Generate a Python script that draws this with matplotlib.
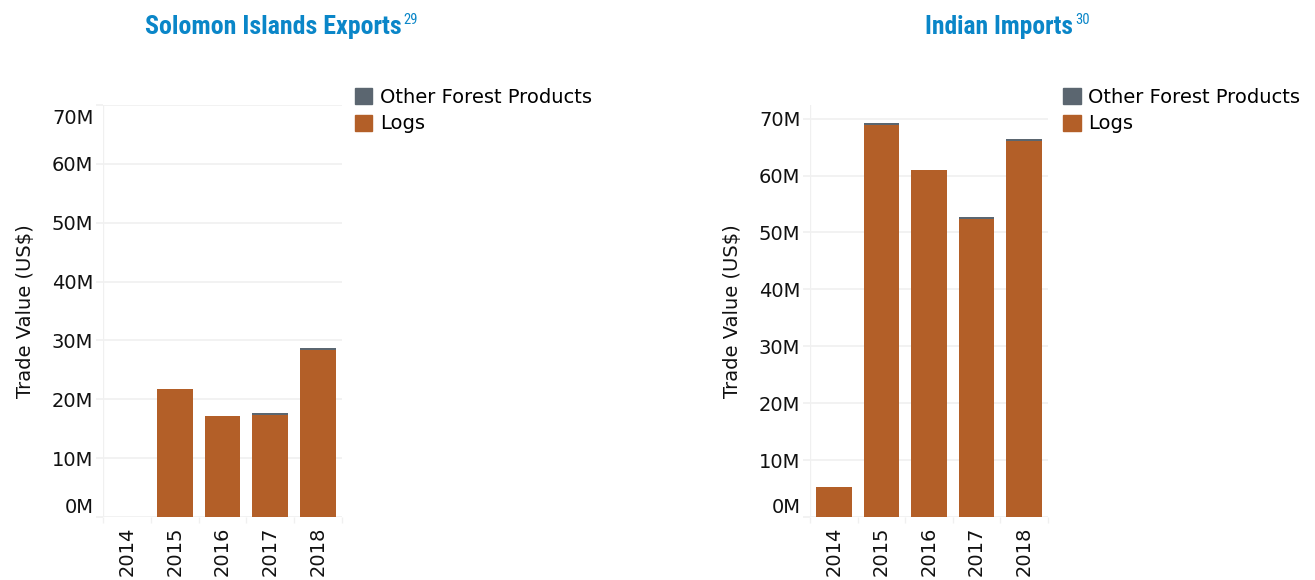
import matplotlib.pyplot as plt
from matplotlib.patches import Patch
from matplotlib import font_manager
from matplotlib.transforms import ScaledTranslation

years = ["2014", "2015", "2016", "2017", "2018"]

# Solomon Islands exports (US$ millions)
solomon_logs = [0.0, 21.8, 17.2, 17.3, 28.4]
solomon_other = [0.0, 0.0, 0.0, 0.35, 0.35]

# Indian imports (US$ millions)
india_logs = [5.3, 68.9, 60.9, 52.4, 66.0]
india_other = [0.0, 0.4, 0.0, 0.4, 0.35]

yticks = [0, 10, 20, 30, 40, 50, 60, 70]
ytick_labels = ["0M", "10M", "20M", "30M", "40M", "50M", "60M", "70M"]

LOGS_COLOR = "#b35f28"
OTHER_COLOR = "#5b6670"
GRID = "#f0f0f0"
TITLE_BLUE = "#0a86c8"
W, H = 1315, 580

plt.rcParams['font.family'] = ['DejaVu Sans']

# pick a narrow face for the titles if one is installed
names = {f.name for f in font_manager.fontManager.ttflist}
title_family = "DejaVu Sans"
for cand in ["Liberation Sans Narrow", "DejaVu Sans Condensed", "Roboto Condensed", "Roboto"]:
    if cand in names:
        title_family = cand
        break

fig = plt.figure(figsize=(W / 100, H / 100), dpi=100)
fig.set_facecolor("white")


def px_axes(x0, x1, y0, y1):
    # pixel box (top-left origin) -> figure fraction
    return fig.add_axes([x0 / W, 1 - y1 / H, (x1 - x0) / W, (y1 - y0) / H])


def draw_panel(ax, logs, other, ymax, title, sup, title_x, title_w, legend_x):
    x = list(range(len(years)))
    ax.bar(x, logs, width=0.75, color=LOGS_COLOR, zorder=3)
    ax.bar(x, other, width=0.75, bottom=logs, color=OTHER_COLOR, zorder=3)

    ax.set_xlim(-0.5, len(years) - 0.5)
    ax.set_ylim(0, ymax)
    for s in ax.spines.values():
        s.set_visible(False)
    ax.axvline(-0.5, color=GRID, lw=1, zorder=1)

    ax.set_yticks(yticks)
    ax.set_yticklabels(ytick_labels)
    ax.yaxis.grid(True, color=GRID, lw=1.2, zorder=0)
    ax.tick_params(axis="y", length=5, width=1.2, color=GRID, pad=2,
                   labelsize=14, labelcolor="#111111")
    labels = ax.get_yticklabels()
    labels[0].set_va("bottom")
    if ymax <= 70.5:
        # flush the top label inside the axis like the original
        labels[-1].set_va("top")
        labels[-1].set_transform(labels[-1].get_transform() +
                                 ScaledTranslation(0, -3 / 72, fig.dpi_scale_trans))

    ax.set_xticks(x)
    ax.set_xticklabels(years, rotation=90, va="top", ha="center")
    ax.set_xticks([i - 0.5 for i in range(len(years) + 1)], minor=True)
    ax.tick_params(axis="x", which="major", length=0, pad=7,
                   labelsize=14, labelcolor="#111111")
    ax.tick_params(axis="x", which="minor", length=4, width=1, color=GRID)

    ax.set_ylabel("Trade Value (US$)", fontsize=14, color="#111111", labelpad=12)

    handles = [Patch(color=OTHER_COLOR, label="Other Forest Products"),
               Patch(color=LOGS_COLOR, label="Logs")]
    fig.legend(handles=handles, loc="upper left",
               bbox_to_anchor=(legend_x / W, 1 - 88 / H), frameon=False,
               fontsize=14, handlelength=0.9, handleheight=0.9,
               handletextpad=0.4, labelspacing=0.38, borderpad=0,
               borderaxespad=0)

    # title: scale the font so its width matches the reference
    r = fig.canvas.get_renderer()
    t = fig.text(title_x / W, 1 - 27 / H, title, ha="center", va="center",
                 fontsize=16, fontweight="bold", color=TITLE_BLUE,
                 family=title_family)
    w = t.get_window_extent(r).width
    t.set_fontsize(16 * title_w / w)
    bb = t.get_window_extent(r)
    fig.text((bb.x1 + 2) / W, 1 - 13 / H, sup, ha="left", va="top",
             fontsize=10.5, color=TITLE_BLUE, family=title_family)


ax1 = px_axes(103, 342, 105, 517)
draw_panel(ax1, solomon_logs, solomon_other, 70.0,
           "Solomon Islands Exports", "29", 273, 256, 355)

ax2 = px_axes(810, 1048, 105, 517)
draw_panel(ax2, india_logs, india_other, 72.4,
           "Indian Imports", "30", 999, 148, 1063)

fig.savefig("out.png", dpi=100, facecolor="white")
